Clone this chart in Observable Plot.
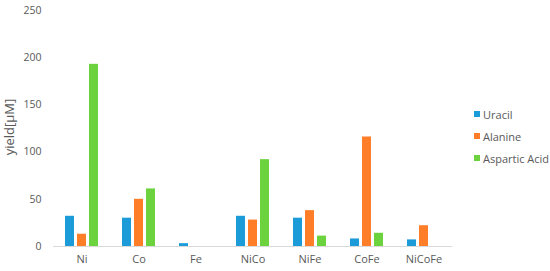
<!DOCTYPE html>
<html>
<head>
<meta charset="utf-8">
<script src="https://cdn.jsdelivr.net/npm/d3@7"></script>
<script src="https://cdn.jsdelivr.net/npm/@observablehq/plot@0.6"></script>
<style>
  body { margin: 0; background: #fff; }
  #wrap { position: relative; width: 550px; height: 271px; font-family: "Open Sans", "Noto Sans", sans-serif; }
  #legend { position: absolute; left: 474px; top: 103px; font-size: 11px; color: #595959; }
  #legend div { display: flex; align-items: center; height: 22px; }
  #legend span.sw { display: inline-block; width: 6px; height: 6px; margin-right: 3px; }
</style>
</head>
<body>
<div id="wrap"></div>
<script>
const categories = ["Ni", "Co", "Fe", "NiCo", "NiFe", "CoFe", "NiCoFe"];
const series = ["Uracil", "Alanine", "Aspartic Acid"];
const uracil = [32, 30, 3, 32, 30, 8, 7];
const alanine = [13, 50, 0, 28, 38, 116, 22];
const asparticAcid = [193, 61, 0, 92, 11, 14, 0];
const colors = ["#1B9BD8", "#FF7E27", "#6CD33E"];
const yTicks = [0, 50, 100, 150, 200, 250];

const valuesBySeries = [uracil, alanine, asparticAcid];
const data = [];
categories.forEach((c, i) => series.forEach((s, j) => data.push({category: c, series: s, value: valuesBySeries[j][i]})));

const chart = Plot.plot({
  width: 550,
  height: 271,
  marginLeft: 50,
  marginRight: 95,
  marginTop: 10,
  marginBottom: 25,
  style: {fontFamily: "'Open Sans', 'Noto Sans', sans-serif", fontSize: "10.5px", color: "#595959", background: "#fff"},
  fx: {domain: categories, padding: 0, label: null},
  x: {domain: series, paddingInner: 0.23, paddingOuter: 0.84, axis: null},
  y: {domain: [0, 250], ticks: yTicks, label: null},
  color: {domain: series, range: colors},
  marks: [
    Plot.axisFx({anchor: "bottom", tickSize: 0, tickPadding: 9, label: null, fontSize: 11}),
    Plot.axisY({ticks: yTicks, tickSize: 0, tickPadding: 12, label: null}),
    Plot.barY(data, {fx: "category", x: "series", y: "value", fill: "series"}),
    Plot.ruleY([0], {stroke: "#d9d9d9", strokeWidth: 1})
  ]
});

const wrap = document.getElementById("wrap");
wrap.appendChild(chart);

// y-axis title
const svg = d3.select(chart);
svg.append("text")
  .attr("transform", "translate(11,127) rotate(-90)")
  .attr("text-anchor", "middle")
  .attr("dominant-baseline", "middle")
  .attr("fill", "#595959")
  .style("font-size", "13px")
  .text("yield[μM]");

const legend = document.createElement("div");
legend.id = "legend";
series.forEach((s, i) => {
  const row = document.createElement("div");
  const sw = document.createElement("span");
  sw.className = "sw";
  sw.style.background = colors[i];
  row.appendChild(sw);
  row.appendChild(document.createTextNode(s));
  legend.appendChild(row);
});
wrap.appendChild(legend);
</script>
</body>
</html>
